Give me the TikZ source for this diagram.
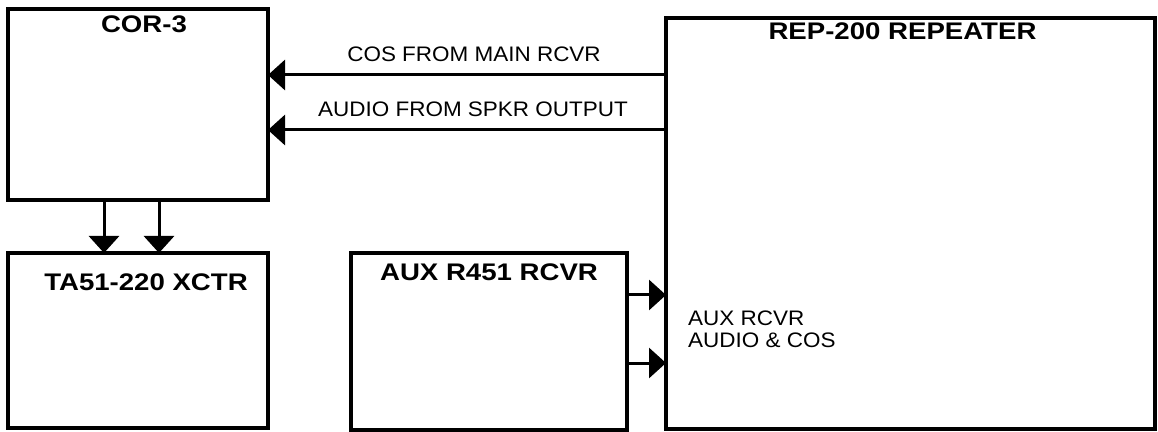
\documentclass[tikz,border=0pt]{standalone}
\usepackage{fontspec}
\setmainfont{Liberation Sans}
\newfontfamily\titlefont[FakeStretch=1.15]{Liberation Sans}
\newfontfamily\lblfont[FakeStretch=1.07]{Liberation Sans}
\usetikzlibrary{arrows.meta,positioning}
\tikzset{
  block/.style={draw, line width=3.5pt, inner sep=0pt, outer sep=0pt},
  title/.style={inner sep=0pt, font=\titlefont\bfseries\fontsize{24}{26}\selectfont},
  lbl/.style={inner sep=0pt, font=\lblfont\fontsize{21}{22}\selectfont},
  sig/.style={line width=3pt, -{Triangle[length=17pt,width=30pt]}}
}
\begin{document}
\begin{tikzpicture}[x=1pt,y=1pt]
  \useasboundingbox (0,0) rectangle (1158,431);
  % boxes
  \node[block, minimum width=260pt, minimum height=191pt] (cor) at (138,326.5) {};
  \node[block, minimum width=260pt, minimum height=175pt] (xctr) at (138,90.5) {};
  \node[block, minimum width=276pt, minimum height=177pt] (aux) at (489,89.5) {};
  \node[block, minimum width=489pt, minimum height=411pt] (rep) at (910.5,207.5) {};
  \node[title, below=7pt of cor.north, xshift=6pt] (cortitle) {COR-3};
  \node[title, below=21pt of xctr.north, xshift=8pt] (xctrtitle) {TA51-220 XCTR};
  \node[title, below=11pt of aux.north] (auxtitle) {AUX R451 RCVR};
  \node[title, below=5pt of rep.north, xshift=-8pt] (reptitle) {REP-200 REPEATER};
  % repeater to cor
  \draw[sig] ([yshift=148.5pt]rep.west) -- ([yshift=148.5pt]rep.west -| cor.east)
    node[lbl, midway, above=12pt, xshift=7pt] (coslbl) {COS FROM MAIN RCVR};
  \draw[sig] ([yshift=93.5pt]rep.west) -- ([yshift=93.5pt]rep.west -| cor.east)
    node[lbl, midway, above=12pt, xshift=6pt] (audlbl) {AUDIO FROM SPKR OUTPUT};
  % cor to xctr
  \draw[sig] ([xshift=-34pt]cor.south) -- ([xshift=-34pt]cor.south |- xctr.north);
  \draw[sig] ([xshift=21pt]cor.south) -- ([xshift=21pt]cor.south |- xctr.north);
  % aux to repeater
  \draw[sig] ([yshift=46.5pt]aux.east) -- ([yshift=46.5pt]aux.east -| rep.west);
  \draw[sig] ([yshift=-21.5pt]aux.east) -- ([yshift=-21.5pt]aux.east -| rep.west);
  \node[lbl, align=left, anchor=west] (auxlbl) at ([xshift=22pt,yshift=-105.5pt]rep.west)
    {AUX RCVR\\AUDIO \& COS};
\end{tikzpicture}
\end{document}
